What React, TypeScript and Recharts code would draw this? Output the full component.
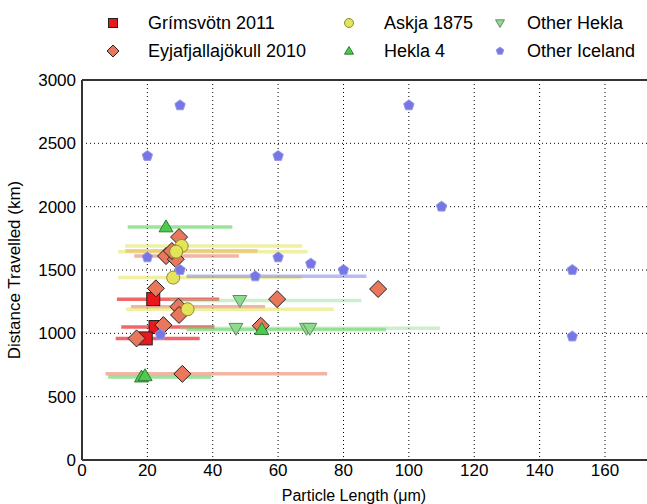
import React from 'react';
import { ScatterChart, Scatter, XAxis, YAxis, CartesianGrid, ErrorBar, ReferenceLine } from 'recharts';

// Grímsvötn 2011
const grimsX = [21.8, 22.5, 19.5];
const grimsY = [1270, 1050, 960];
const grimsLo = [10.7, 12, 10.3];
const grimsHi = [42, 40.5, 36];

// Eyjafjallajökull 2010
const eyjaX = [29.7, 25.7, 28.7, 27.5, 22.6, 29.5, 29.7, 24.9, 16.7, 30.7, 59.7, 90.6, 54.7];
const eyjaY = [1760, 1610, 1585, 1650, 1355, 1210, 1145, 1065, 960, 680, 1270, 1350, 1060];
const eyjaLo = [null, 16, null, 13.3, null, 15, null, null, null, 7.2, null, null, null];
const eyjaHi = [null, 48, null, 53.7, null, 56, null, null, null, 75, null, null, null];

// Askja 1875
const askjaX = [30.5, 28.8, 27.9, 32.3];
const askjaY = [1690, 1645, 1440, 1190];
const askjaLo = [13.2, 11.1, 11.1, 13.5];
const askjaHi = [67.4, 69, 67.2, 77];

// Hekla 4
const hekla4X = [25.7, 18.2, 19.3, 55];
const hekla4Y = [1840, 655, 665, 1030];
const hekla4Lo = [14, 8, null, 32];
const hekla4Hi = [46, 39.6, null, 93];

// Other Hekla
const othHeklaX = [48.3, 47.1, 68.7, 69.7];
const othHeklaY = [1260, 1040, 1040, 1040];
const othHeklaLo = [27, null, null, 30];
const othHeklaHi = [85.5, null, null, 109.5];

// Other Iceland
const othIceX = [20, 30, 60, 100, 110, 150, 150, 20, 30, 60, 70, 80, 53, 24];
const othIceY = [2400, 2800, 2400, 2800, 2000, 1500, 975, 1600, 1500, 1600, 1550, 1500, 1450, 990];
const othIceLo = [null, null, null, null, null, null, null, null, null, null, null, null, 32, null];
const othIceHi = [null, null, null, null, null, null, null, null, null, null, null, null, 87, null];

const xTicks = [0, 20, 40, 60, 80, 100, 120, 140, 160];
const yTicks = [0, 500, 1000, 1500, 2000, 2500, 3000];

const rows = (xs: number[], ys: number[], lo: (number | null)[], hi: (number | null)[]) =>
  xs.map((x, i) => ({
    x,
    y: ys[i],
    err: lo[i] == null || hi[i] == null ? undefined : [x - (lo[i] as number), (hi[i] as number) - x],
  }));

type Kind = 'square' | 'diamond' | 'circle' | 'triUp' | 'triDown' | 'pentagon';

const marker = (kind: Kind, cx: number, cy: number, r: number, fill: string, edge: string) => {
  const common = { fill, stroke: edge, strokeWidth: 1 };
  switch (kind) {
    case 'square':
      return <rect x={cx - r} y={cy - r} width={2 * r} height={2 * r} {...common} />;
    case 'diamond':
      return <polygon points={`${cx},${cy - r} ${cx + r},${cy} ${cx},${cy + r} ${cx - r},${cy}`} {...common} />;
    case 'circle':
      return <circle cx={cx} cy={cy} r={r} {...common} />;
    case 'triUp':
      return <polygon points={`${cx},${cy - r} ${cx + r},${cy + r * 0.7} ${cx - r},${cy + r * 0.7}`} {...common} />;
    case 'triDown':
      return <polygon points={`${cx},${cy + r} ${cx + r},${cy - r * 0.7} ${cx - r},${cy - r * 0.7}`} {...common} />;
    default: {
      const pts = [0, 1, 2, 3, 4]
        .map((i) => {
          const a = ((-90 + 72 * i) * Math.PI) / 180;
          return `${cx + r * Math.cos(a)},${cy + r * Math.sin(a)}`;
        })
        .join(' ');
      return <polygon points={pts} {...common} />;
    }
  }
};

const groups = [
  { name: 'Grímsvötn 2011', data: rows(grimsX, grimsY, grimsLo, grimsHi), kind: 'square' as Kind, r: 6.5, fill: '#e8181c', edge: '#222', bar: '#e8262a', op: 0.7 },
  { name: 'Eyjafjallajökull 2010', data: rows(eyjaX, eyjaY, eyjaLo, eyjaHi), kind: 'diamond' as Kind, r: 8.5, fill: '#e8775b', edge: '#222', bar: '#e8775b', op: 0.55 },
  { name: 'Askja 1875', data: rows(askjaX, askjaY, askjaLo, askjaHi), kind: 'circle' as Kind, r: 6.5, fill: '#e4e45a', edge: '#8a8a30', bar: '#e4e45a', op: 0.55 },
  { name: 'Hekla 4', data: rows(hekla4X, hekla4Y, hekla4Lo, hekla4Hi), kind: 'triUp' as Kind, r: 7, fill: '#4ccc4c', edge: '#337733', bar: '#4ccc4c', op: 0.55 },
  { name: 'Other Hekla', data: rows(othHeklaX, othHeklaY, othHeklaLo, othHeklaHi), kind: 'triDown' as Kind, r: 7, fill: '#8ddc8d', edge: '#668866', bar: '#8ddc8d', op: 0.45 },
  { name: 'Other Iceland', data: rows(othIceX, othIceY, othIceLo, othIceHi), kind: 'pentagon' as Kind, r: 5.5, fill: '#7777e4', edge: '#9999ee', bar: '#7777e4', op: 0.5 },
];

const legendPos = [
  { x: 113, y: 23, tx: 148 },
  { x: 113, y: 51, tx: 148 },
  { x: 349, y: 23, tx: 384 },
  { x: 349, y: 51, tx: 384 },
  { x: 500, y: 23, tx: 527 },
  { x: 500, y: 51, tx: 527 },
];

const font = '"Liberation Sans", Arial, sans-serif';

export default function App() {
  return (
    <div style={{ position: 'absolute', left: 0, top: 0, width: 647, height: 504, overflow: 'hidden', background: '#fff', fontFamily: font }}>
      <ScatterChart width={660} height={504} margin={{ top: 80, right: 6, bottom: 0, left: 0 }}>
        <CartesianGrid stroke="#000" strokeDasharray="1 3" strokeWidth={1} />
        <XAxis
          type="number"
          dataKey="x"
          domain={[0, 175]}
          ticks={xTicks}
          allowDataOverflow
          height={44}
          tickLine={false}
          tickSize={2}
          tickMargin={2}
          axisLine={{ stroke: '#333', strokeWidth: 2 }}
          tick={{ fill: '#000', fontSize: 17, fontFamily: font }}
          label={{ value: 'Particle Length (μm)', position: 'insideBottom', offset: 3, dx: -14, fill: '#000', fontSize: 16, fontFamily: font }}
        />
        <YAxis
          type="number"
          dataKey="y"
          domain={[0, 3000]}
          ticks={yTicks}
          width={82}
          tickLine={false}
          tickSize={4}
          tickMargin={2}
          axisLine={{ stroke: '#333', strokeWidth: 2 }}
          tick={{ fill: '#000', fontSize: 17, fontFamily: font }}
          label={{ value: 'Distance Travelled (km)', angle: -90, position: 'center', dx: -27, fill: '#000', fontSize: 17, fontFamily: font }}
        />
        <ReferenceLine y={3000} stroke="#333" strokeWidth={2} />
        {groups.map((g) => (
          <Scatter key={g.name + '-range'} data={g.data} shape={() => <g />} isAnimationActive={false} legendType="none">
            <ErrorBar dataKey="err" direction="x" width={0} stroke={g.bar} strokeWidth={3.5} strokeOpacity={g.op} isAnimationActive={false} />
          </Scatter>
        ))}
        {groups.map((g) => (
          <Scatter
            key={g.name}
            name={g.name}
            data={g.data}
            isAnimationActive={false}
            shape={(p: any) => marker(g.kind, p.cx, p.cy, g.r, g.fill, g.edge)}
          />
        ))}
      </ScatterChart>
      {groups.map((g, i) => (
        <div key={g.name} style={{ position: 'absolute', left: 0, top: 0 }}>
          <svg width={16} height={16} style={{ position: 'absolute', left: legendPos[i].x - 8, top: legendPos[i].y - 8 }}>
            {marker(g.kind, 8, 8, g.kind === 'pentagon' ? 4 : g.kind === 'diamond' ? 6 : 4.5, g.fill, g.edge)}
          </svg>
          <div style={{ position: 'absolute', left: legendPos[i].tx, top: legendPos[i].y - 11, fontSize: 18, lineHeight: '22px', whiteSpace: 'nowrap', color: '#000' }}>
            {g.name}
          </div>
        </div>
      ))}
    </div>
  );
}
